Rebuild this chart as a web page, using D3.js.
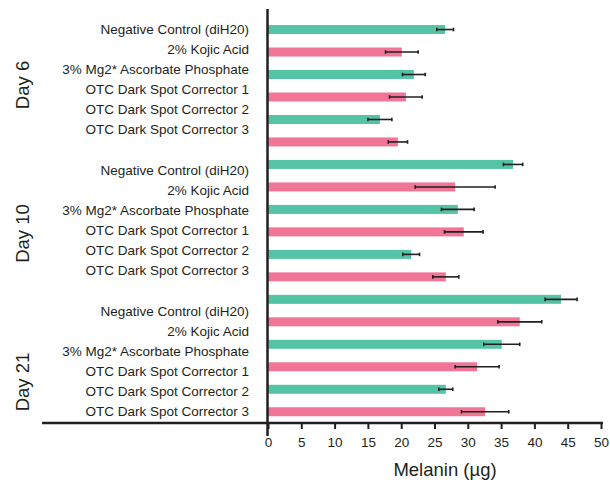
<!DOCTYPE html>
<html><head><meta charset="utf-8">
<script src="https://cdn.jsdelivr.net/npm/d3@7"></script>
<style>body{margin:0;background:#fff}svg{display:block}text{font-family:"Liberation Sans",Arial,sans-serif;fill:#231f20}</style>
</head><body><svg id="c" width="610" height="484"></svg>
<script>
const days = ["Day 6", "Day 10", "Day 21"];
const treatments = ["Negative Control (diH20)", "2% Kojic Acid", "3% Mg2* Ascorbate Phosphate", "OTC Dark Spot Corrector 1", "OTC Dark Spot Corrector 2", "OTC Dark Spot Corrector 3"];
const day6Means = [26.6, 20.1, 21.9, 20.7, 16.8, 19.5];
const day6Err = [1.25, 2.45, 1.7, 2.45, 1.8, 1.45];
const day10Means = [36.8, 28.1, 28.5, 29.4, 21.5, 26.7];
const day10Err = [1.45, 6.0, 2.45, 2.9, 1.25, 1.95];
const day21Means = [44.0, 37.8, 35.1, 31.4, 26.7, 32.6];
const day21Err = [2.4, 3.3, 2.7, 3.3, 1.05, 3.55];
const xTicks = [0, 5, 10, 15, 20, 25, 30, 35, 40, 45, 50];
const xTitle = "Melanin (µg)";

const means = [day6Means, day10Means, day21Means];
const errs = [day6Err, day10Err, day21Err];
const rows = [];
days.forEach((d, i) => treatments.forEach((t, j) => rows.push({day: d, t, j, key: d + "|" + t, v: means[i][j], e: errs[i][j]})));

const svg = d3.select("#c");
const green = "#55c3a5", pink = "#f07596", ink = "#231f20";

const x = d3.scaleLinear().domain([0, 50]).range([268, 601]);
const y = d3.scaleBand().domain(rows.map(r => r.key)).range([18.3, 423]).paddingInner(0.6).paddingOuter(0.3);
const labelGroup = d3.scalePoint().domain(days).range([29.5, 311.5]);
const labelIn = d3.scalePoint().domain(treatments).range([0, 100]);
const dayPos = d3.scalePoint().domain(days).range([85, 382]);

// bars
svg.append("g").selectAll("rect").data(rows).join("rect")
  .attr("x", x(0)).attr("y", r => y(r.key))
  .attr("width", r => x(r.v) - x(0)).attr("height", y.bandwidth())
  .attr("fill", r => r.j % 2 === 0 ? green : pink);

// error bars
const eg = svg.append("g").attr("stroke", ink).attr("stroke-width", 1.6);
rows.forEach(r => {
  const cy = y(r.key) + y.bandwidth() / 2;
  eg.append("line").attr("x1", x(r.v - r.e)).attr("x2", x(r.v + r.e)).attr("y1", cy).attr("y2", cy);
  [r.v - r.e, r.v + r.e].forEach(v => eg.append("line").attr("x1", x(v)).attr("x2", x(v)).attr("y1", cy - 1.8).attr("y2", cy + 1.8));
});

// category labels
svg.append("g").selectAll("text").data(rows).join("text")
  .attr("x", 249).attr("y", r => labelGroup(r.day) + labelIn(r.t))
  .attr("dy", "0.35em").attr("text-anchor", "end").attr("font-size", 13.5)
  .text(r => r.t);

// day labels
svg.append("g").selectAll("text").data(days).join("text")
  .attr("transform", d => `translate(29,${dayPos(d)}) rotate(-90)`)
  .attr("text-anchor", "middle").attr("font-size", 18.5).text(d => d);

// x axis
const axisY = 423;
const xa = svg.append("g").attr("transform", `translate(0,${axisY})`)
  .call(d3.axisBottom(x).tickValues(xTicks).tickSize(6).tickPadding(8));
xa.select(".domain").remove();
xa.selectAll(".tick line").attr("stroke", ink).attr("stroke-width", 2);
xa.selectAll(".tick text").attr("font-size", 13.5).attr("font-family", "Liberation Sans, Arial, sans-serif").attr("fill", ink);
svg.append("line").attr("x1", 42).attr("x2", 603).attr("y1", axisY).attr("y2", axisY).attr("stroke", ink).attr("stroke-width", 2.5);
svg.append("line").attr("x1", x(0) - 0.5).attr("x2", x(0) - 0.5).attr("y1", 9).attr("y2", 436).attr("stroke", ink).attr("stroke-width", 2.5);

svg.append("text").attr("x", 445).attr("y", 476).attr("text-anchor", "middle").attr("font-size", 18.5).text(xTitle);
</script></body></html>
